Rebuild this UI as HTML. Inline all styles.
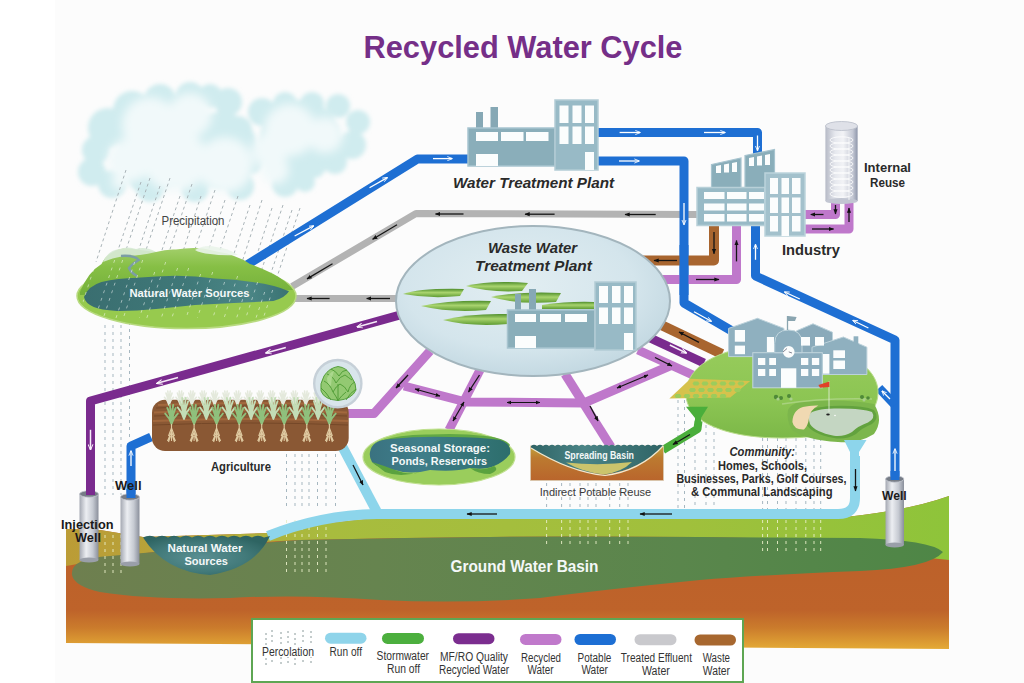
<!DOCTYPE html>
<html><head><meta charset="utf-8">
<style>
html,body{margin:0;padding:0;background:#fff;width:1024px;height:683px;overflow:hidden}
svg{display:block}
text{font-family:"Liberation Sans",sans-serif}
</style></head>
<body>
<svg width="1024" height="683" viewBox="0 0 1024 683">
<defs>
  <linearGradient id="gBrown" gradientUnits="userSpaceOnUse" x1="0" y1="500" x2="0" y2="649">
    <stop offset="0" stop-color="#bb5f2a"/>
    <stop offset="0.74" stop-color="#be632a"/>
    <stop offset="0.86" stop-color="#cb7c2c"/>
    <stop offset="1" stop-color="#e4aa36"/>
  </linearGradient>
  <linearGradient id="gTop" x1="0" y1="0" x2="1" y2="0">
    <stop offset="0" stop-color="#bb9c36"/>
    <stop offset="0.12" stop-color="#b6a43a"/>
    <stop offset="0.3" stop-color="#a8bc3e"/>
    <stop offset="0.7" stop-color="#a0c03c"/>
    <stop offset="1" stop-color="#8ec43a"/>
  </linearGradient>
  <linearGradient id="gAq" x1="0" y1="0" x2="1" y2="0">
    <stop offset="0" stop-color="#6e7f4f"/>
    <stop offset="0.35" stop-color="#66844f"/>
    <stop offset="0.7" stop-color="#5a864c"/>
    <stop offset="1" stop-color="#4e8646"/>
  </linearGradient>
  <linearGradient id="gCyl" x1="0" y1="0" x2="1" y2="0">
    <stop offset="0" stop-color="#a4a8b2"/>
    <stop offset="0.35" stop-color="#eceef2"/>
    <stop offset="0.7" stop-color="#c6cad2"/>
    <stop offset="1" stop-color="#8a8f9b"/>
  </linearGradient>
  <linearGradient id="gSilo" x1="0" y1="0" x2="1" y2="0">
    <stop offset="0" stop-color="#b6bac6"/>
    <stop offset="0.3" stop-color="#e6e8ee"/>
    <stop offset="0.55" stop-color="#f2f3f6"/>
    <stop offset="0.85" stop-color="#c4c8d4"/>
    <stop offset="1" stop-color="#8e96aa"/>
  </linearGradient>
  <filter id="soft" x="-10%" y="-10%" width="120%" height="120%"><feGaussianBlur stdDeviation="1.2"/></filter>
  <filter id="soft2" x="-10%" y="-10%" width="120%" height="120%"><feGaussianBlur stdDeviation="2"/></filter>
  <filter id="soft3" x="-20%" y="-20%" width="140%" height="140%"><feGaussianBlur stdDeviation="5"/></filter>
  <marker id="ah" viewBox="0 0 10 10" refX="9" refY="5" markerWidth="4" markerHeight="4" orient="auto"><path d="M0 1 L10 5 L0 9 Z" fill="#111"/></marker>
  <marker id="ahs" viewBox="0 0 10 10" refX="9" refY="5" markerWidth="4" markerHeight="4" orient="auto-start-reverse"><path d="M0 1 L10 5 L0 9 Z" fill="#111"/></marker>
  <marker id="ahw" viewBox="0 0 10 10" refX="9" refY="5" markerWidth="4" markerHeight="4" orient="auto"><path d="M0 1 L10 5 L0 9" fill="none" stroke="#fff" stroke-width="1.6"/></marker>
  <linearGradient id="gComm" x1="0" y1="0" x2="0" y2="1">
    <stop offset="0" stop-color="#98cc5c"/><stop offset="0.6" stop-color="#8cc553"/><stop offset="1" stop-color="#7cb848"/>
  </linearGradient>
  <radialGradient id="gEll" cx="0.45" cy="0.4" r="0.6">
    <stop offset="0" stop-color="#e2eef2"/><stop offset="0.7" stop-color="#d4e5ec"/><stop offset="1" stop-color="#c4d9e2"/>
  </radialGradient>
  <linearGradient id="gPond" x1="0" y1="0" x2="0" y2="1">
    <stop offset="0" stop-color="#4f8e2c"/><stop offset="0.45" stop-color="#a9d46e"/><stop offset="1" stop-color="#5f9c34"/>
  </linearGradient>
  <linearGradient id="gHill" x1="0" y1="0" x2="0" y2="1">
    <stop offset="0" stop-color="#a2cf6a"/><stop offset="0.4" stop-color="#86bf45"/><stop offset="1" stop-color="#74b03a"/>
  </linearGradient>
  <linearGradient id="gLake" x1="0" y1="0" x2="1" y2="0">
    <stop offset="0" stop-color="#3a6e70"/><stop offset="0.5" stop-color="#3f7878"/><stop offset="0.8" stop-color="#4b8686"/><stop offset="1" stop-color="#3a7272"/>
  </linearGradient>
  <clipPath id="islandClip"><ellipse cx="186.5" cy="290" rx="108" ry="42"/></clipPath>
  <linearGradient id="gSB" x1="0" y1="0" x2="0" y2="1">
    <stop offset="0" stop-color="#c2a43c"/><stop offset="0.35" stop-color="#bc7a30"/><stop offset="1" stop-color="#b9652c"/>
  </linearGradient>
  <linearGradient id="gSBw" x1="0" y1="0" x2="1" y2="0">
    <stop offset="0" stop-color="#2f6466"/><stop offset="0.4" stop-color="#4a8486"/><stop offset="1" stop-color="#2f6466"/>
  </linearGradient>
  <linearGradient id="gSS" x1="0" y1="0" x2="1" y2="0">
    <stop offset="0" stop-color="#3a7280"/><stop offset="0.35" stop-color="#3f7e8a"/><stop offset="1" stop-color="#2d6e6c"/>
  </linearGradient>
  <radialGradient id="gBowl" cx="0.45" cy="0.55" r="0.6">
    <stop offset="0" stop-color="#5a8f92"/><stop offset="0.6" stop-color="#427a7a"/><stop offset="1" stop-color="#2e6462"/>
  </radialGradient>
  <radialGradient id="gCloud" cx="0.5" cy="0.5" r="0.6">
    <stop offset="0" stop-color="#f4fafb"/>
    <stop offset="0.7" stop-color="#e2f2f4"/>
    <stop offset="1" stop-color="#c6e8ec"/>
  </radialGradient>
</defs>

<rect width="1024" height="683" fill="#ffffff"/>
<rect x="55" y="0" width="969" height="683" fill="#fcfcfc"/>

<!-- ===== TITLE ===== -->
<text x="363.5" y="58" font-size="30.5" font-weight="bold" fill="#752f88" textLength="319" lengthAdjust="spacingAndGlyphs">Recycled Water Cycle</text>

<!-- ===== CLOUDS ===== -->
<g id="clouds">
  <g fill="#d0ecef" filter="url(#soft2)">
    <circle cx="132" cy="110" r="19"/><circle cx="160" cy="100" r="16"/><circle cx="190" cy="96" r="14"/><circle cx="210" cy="96" r="12"/>
    <circle cx="228" cy="102" r="14"/><circle cx="108" cy="128" r="20"/><circle cx="96" cy="150" r="14"/><circle cx="92" cy="172" r="14"/>
    <circle cx="112" cy="184" r="14"/><circle cx="150" cy="188" r="14"/><circle cx="195" cy="188" r="14"/><circle cx="240" cy="186" r="14"/>
    <circle cx="285" cy="184" r="13"/><circle cx="305" cy="182" r="10"/><circle cx="238" cy="130" r="14"/><circle cx="250" cy="160" r="14"/>
    <circle cx="262" cy="112" r="14"/><circle cx="285" cy="104" r="12"/><circle cx="312" cy="104" r="12"/><circle cx="338" cy="106" r="12"/>
    <circle cx="358" cy="122" r="12"/><circle cx="352" cy="145" r="14"/><circle cx="335" cy="162" r="12"/><circle cx="315" cy="168" r="10"/>
    <circle cx="165" cy="140" r="45"/><circle cx="220" cy="150" r="38"/><circle cx="300" cy="140" r="40"/><circle cx="150" cy="170" r="25"/>
  </g>
  <g fill="#f1f9fa" filter="url(#soft3)">
    <circle cx="150" cy="125" r="28"/><circle cx="190" cy="115" r="22"/><circle cx="130" cy="160" r="22"/><circle cx="175" cy="160" r="32"/>
    <circle cx="225" cy="165" r="28"/><circle cx="275" cy="170" r="14"/><circle cx="290" cy="130" r="26"/><circle cx="325" cy="135" r="18"/>
    <circle cx="270" cy="150" r="18"/><circle cx="120" cy="182" r="8"/>
  </g>
</g>

<!-- ===== RAIN ===== -->
<g id="rain" stroke="#aab4b8" stroke-width="1" stroke-dasharray="3 3" fill="none">
  <line x1="126" y1="170" x2="96" y2="262"/><line x1="141" y1="182" x2="112" y2="268"/><line x1="150" y1="178" x2="120" y2="268"/>
  <line x1="160" y1="186" x2="132" y2="270"/><line x1="170" y1="178" x2="140" y2="268"/><line x1="180" y1="196" x2="152" y2="280"/>
  <line x1="192" y1="184" x2="163" y2="270"/><line x1="201" y1="196" x2="175" y2="276"/><line x1="215" y1="190" x2="186" y2="276"/>
  <line x1="225" y1="200" x2="198" y2="282"/><line x1="238" y1="196" x2="210" y2="280"/><line x1="250" y1="205" x2="222" y2="290"/>
  <line x1="262" y1="200" x2="235" y2="284"/><line x1="272" y1="208" x2="245" y2="292"/><line x1="283" y1="205" x2="255" y2="290"/>
  <line x1="292" y1="210" x2="262" y2="300"/><line x1="300" y1="208" x2="270" y2="298"/>
</g>
<g id="perc" stroke="#a6b7c0" stroke-width="1" stroke-dasharray="3 4" fill="none"><line x1="105" y1="325" x2="105" y2="495"/><line x1="113" y1="325" x2="113" y2="495"/><line x1="121" y1="325" x2="121" y2="495"/><line x1="129.5" y1="322" x2="129.5" y2="440"/><line x1="286.5" y1="454" x2="286.5" y2="510"/><line x1="295" y1="454" x2="295" y2="510"/><line x1="302" y1="454" x2="302" y2="510"/><line x1="309" y1="454" x2="309" y2="510"/><line x1="317.5" y1="454" x2="317.5" y2="510"/><line x1="326" y1="454" x2="326" y2="510"/><line x1="335.5" y1="454" x2="335.5" y2="510"/><line x1="546.6" y1="483" x2="546.6" y2="508"/><line x1="561.6" y1="483" x2="561.6" y2="508"/><line x1="570" y1="483" x2="570" y2="508"/><line x1="580" y1="483" x2="580" y2="508"/><line x1="588" y1="483" x2="588" y2="508"/><line x1="596" y1="483" x2="596" y2="508"/><line x1="609.7" y1="483" x2="609.7" y2="508"/><line x1="619.7" y1="483" x2="619.7" y2="508"/><line x1="628" y1="483" x2="628" y2="508"/><line x1="678" y1="400" x2="678" y2="509"/><line x1="684.5" y1="400" x2="684.5" y2="509"/><line x1="695" y1="425" x2="695" y2="509"/><line x1="706" y1="425" x2="706" y2="509"/><line x1="714" y1="425" x2="714" y2="509"/><line x1="762.6" y1="438" x2="762.6" y2="509"/><line x1="767.5" y1="438" x2="767.5" y2="509"/><line x1="777.5" y1="438" x2="777.5" y2="509"/><line x1="786" y1="438" x2="786" y2="509"/><line x1="796" y1="438" x2="796" y2="509"/><line x1="805.8" y1="438" x2="805.8" y2="509"/><line x1="814" y1="438" x2="814" y2="509"/><line x1="820.7" y1="438" x2="820.7" y2="509"/></g>

<text x="161.5" y="225.3" font-size="12" fill="#444" textLength="63" lengthAdjust="spacingAndGlyphs">Precipitation</text>

<!-- ===== GROUND ===== -->
<g id="ground">
  <path d="M66 529 L100 530 L143 537 L270 533 Q320 522 380 518 L846 517 Q910 510 949 496 L949 649 L66 643 Z" fill="url(#gBrown)"/>
  <path d="M66 529 L100 530 L143 537 L270 533 Q320 522 380 518 L846 517 Q910 510 949 496 L949 560 Q900 556 860 540 L700 537 Q500 535 300 540 Q150 548 72 565 L66 566 Z" fill="url(#gTop)"/>
  <path d="M72 575 Q70 558 110 556 Q200 548 300 540 Q500 535 700 537 L860 538 Q930 540 943 552 Q930 568 860 571 Q760 575 700 580 Q600 590 540 598 Q460 604 380 600 Q300 594 230 598 Q150 600 100 592 Q74 586 72 575 Z" fill="url(#gAq)"/>
</g>

<g id="perc2" stroke="#e9efc8" stroke-width="1" stroke-dasharray="3 4" fill="none" opacity="0.9"><line x1="105" y1="535" x2="105" y2="575"/><line x1="113" y1="535" x2="113" y2="575"/><line x1="121" y1="535" x2="121" y2="575"/><line x1="286.5" y1="520" x2="286.5" y2="573"/><line x1="295" y1="520" x2="295" y2="573"/><line x1="302" y1="520" x2="302" y2="573"/><line x1="309" y1="520" x2="309" y2="573"/><line x1="317.5" y1="520" x2="317.5" y2="573"/><line x1="326" y1="520" x2="326" y2="573"/><line x1="546.6" y1="520" x2="546.6" y2="545"/><line x1="561.6" y1="520" x2="561.6" y2="545"/><line x1="570" y1="520" x2="570" y2="545"/><line x1="580" y1="520" x2="580" y2="545"/><line x1="588" y1="520" x2="588" y2="545"/><line x1="596" y1="520" x2="596" y2="545"/><line x1="609.7" y1="520" x2="609.7" y2="545"/><line x1="619.7" y1="520" x2="619.7" y2="545"/><line x1="628" y1="520" x2="628" y2="545"/><line x1="762.6" y1="520" x2="762.6" y2="553"/><line x1="767.5" y1="520" x2="767.5" y2="553"/><line x1="777.5" y1="520" x2="777.5" y2="553"/><line x1="786" y1="520" x2="786" y2="553"/><line x1="796" y1="520" x2="796" y2="553"/><line x1="805.8" y1="520" x2="805.8" y2="553"/><line x1="814" y1="520" x2="814" y2="553"/><line x1="820.7" y1="520" x2="820.7" y2="553"/></g>

<!-- ===== PIPES ===== -->
<g id="pipes" fill="none" stroke-linejoin="round" stroke-linecap="butt">
  <!-- gray treated effluent -->
  <g stroke="#b3b3b3" stroke-width="7">
    <polyline points="697,214.5 416,213.5 292,286.5"/>
    <polyline points="398,298.5 295,298.5"/>
  </g>
  <!-- blue potable -->
  <g stroke="#1e6fd3" stroke-width="9">
    <polyline points="246,265.5 417.5,159 470,159"/>
    <polyline points="597,132.5 757.5,132.5 757.5,154"/>
    <polyline points="597,161 684,161 684,303 732,331"/>
    <polyline points="755.5,224 755.5,276 895,340 895,480"/>
    <polyline points="151,437 131,446 131,498"/>
    <polyline points="895,405 879,388"/>
  </g>
  <!-- brown waste -->
  <g stroke="#a8652f" stroke-width="10">
    <polyline points="714,224 714,260.5 640,260.5"/>
    <polyline points="655,322 722,354"/>
  </g>
  <!-- light purple recycled -->
  <g stroke="#bf78cb" stroke-width="9">
    <polyline points="736.5,224 736.5,279.5 652,279.5"/>
    <polyline points="804,214.5 835.5,214.5 835.5,203"/>
    <polyline points="804,229 849,229 849,203"/>
    <polyline points="430,351 374,413.5 346,413.5"/>
    <polyline points="404,386 466,402 584,403 672,365"/>
    <polyline points="480,370 449,430"/>
    <polyline points="565,374 611,447"/>
    <polyline points="638,350 695,376"/>
  </g>
  <line x1="684" y1="245" x2="684" y2="295" stroke="#1e6fd3" stroke-width="9"/>
  <!-- dark purple MF/RO -->
  <g stroke="#7a2b8e" stroke-width="9">
    <polyline points="400,315 90.5,401 90.5,495"/>
    <polyline points="648,337 704,363"/>
  </g>
  <!-- runoff light blue -->
  <g stroke="#8dd5eb" stroke-width="10">
    <path d="M855 456 L855 498 Q855 514 838 514 L377 514 Q320 515 268 536"/>
    <polyline points="342,446 377,512"/>
  </g>
  <!-- stormwater -->
  <g stroke="#4aae3b" stroke-width="8">
    <polyline points="698.5,421 697.5,429 663,450"/>
  </g>
</g>

<!-- ===== ARROWS ===== -->
<g id="arrows-w" stroke="#ffffff" stroke-width="1.3" fill="none" marker-end="url(#ahw)">
  <line x1="294.6" y1="236" x2="313.6" y2="225.9"/><line x1="369.5" y1="187.8" x2="387.3" y2="177.6"/><line x1="433" y1="158.6" x2="452" y2="158.6"/>
  <line x1="619.6" y1="132.5" x2="640" y2="132.5"/><line x1="704" y1="132.5" x2="725" y2="132.5"/><line x1="757.5" y1="135.5" x2="757.5" y2="150.5"/>
  <line x1="619" y1="161" x2="639" y2="161"/><line x1="684" y1="203" x2="684" y2="224.5"/><line x1="694" y1="311.8" x2="711.3" y2="321.3"/>
  <line x1="755.5" y1="259.8" x2="755.5" y2="244.6"/><line x1="799.8" y1="299" x2="784.6" y2="292"/><line x1="868.4" y1="328" x2="853" y2="320.5"/>
  <line x1="895" y1="471" x2="895" y2="449"/><line x1="890" y1="399" x2="882" y2="391"/><line x1="131" y1="466" x2="131" y2="451"/>
</g>
<g id="arrows-p" stroke="#f6ecf8" stroke-width="1.5" fill="none" marker-end="url(#ahw)">
  <line x1="377" y1="321.5" x2="357" y2="327"/><line x1="285.8" y1="347.5" x2="265.9" y2="353"/><line x1="178" y1="377.5" x2="157" y2="383.3"/>
  <line x1="90.5" y1="429.8" x2="90.5" y2="449.7"/><line x1="669.8" y1="345" x2="686.3" y2="353"/>
</g>
<g id="arrows-k" stroke="#151515" stroke-width="1.3" fill="none" marker-end="url(#ah)">
  <line x1="655.7" y1="214.5" x2="625" y2="214.5"/><line x1="554.6" y1="214.2" x2="525" y2="214.2"/><line x1="463.5" y1="214" x2="435.5" y2="214"/>
  <line x1="397" y1="224.8" x2="372.6" y2="239.3"/><line x1="332.5" y1="263.8" x2="307" y2="278.9"/>
  <line x1="390" y1="298.5" x2="366.7" y2="298.5"/><line x1="329.6" y1="298.5" x2="307" y2="298.5"/>
  <line x1="714" y1="232" x2="714" y2="253.8"/><line x1="677" y1="260.5" x2="654" y2="260.5"/><line x1="699" y1="342.3" x2="679" y2="332"/>
  <line x1="736.5" y1="261.4" x2="736.5" y2="240.5"/><line x1="696" y1="279.5" x2="719" y2="279.5"/>
  <line x1="823.5" y1="214.5" x2="810.8" y2="214.5"/><line x1="835.5" y1="205" x2="835.5" y2="214"/><line x1="812" y1="229" x2="833.6" y2="229"/><line x1="849" y1="222" x2="849" y2="208"/>
  <line x1="655" y1="357.5" x2="672" y2="366"/>
  <line x1="408" y1="375" x2="396" y2="388"/><line x1="479.5" y1="375" x2="468.5" y2="392"/><line x1="590" y1="406" x2="598" y2="421"/>
  <line x1="855.5" y1="469" x2="855.5" y2="491"/>
  <line x1="497" y1="514" x2="467" y2="514"/><line x1="672" y1="514" x2="640" y2="514"/><line x1="353" y1="465" x2="363" y2="485"/>
  <line x1="690" y1="434.5" x2="673" y2="444.5"/>
</g>
<g id="arrows-d" stroke="#151515" stroke-width="1.2" fill="none" marker-end="url(#ah)" marker-start="url(#ahs)">
  <line x1="415" y1="389" x2="440" y2="396"/><line x1="464" y1="402" x2="453" y2="421"/><line x1="507" y1="402.5" x2="540" y2="402.5"/><line x1="617" y1="388" x2="648" y2="375"/>
</g>

<!-- ===== WATER TREATMENT PLANT ===== -->
<g id="wtp">
  <rect x="476" y="112" width="7" height="17" fill="#86a8b5"/>
  <rect x="490.5" y="107" width="7.5" height="22" fill="#86a8b5"/>
  <rect x="468" y="128" width="87" height="38" fill="#8aaeba" stroke="#a7c4cf" stroke-width="1.5"/>
  <g fill="#fbfdfd"><rect x="476" y="132" width="22" height="9"/><rect x="501" y="132" width="22.5" height="9"/><rect x="526" y="132" width="22.5" height="9"/><rect x="476" y="154" width="22" height="12"/></g>
  <rect x="555" y="100" width="43" height="70" fill="#98bac6" stroke="#b2ccd5" stroke-width="1.5"/>
  <g fill="#fbfdfd"><rect x="559.5" y="105.5" width="9" height="17.5"/><rect x="572.5" y="105.5" width="9" height="17.5"/><rect x="585" y="105.5" width="9" height="17.5"/>
  <rect x="559.5" y="126.5" width="9" height="17.5"/><rect x="572.5" y="126.5" width="9" height="17.5"/><rect x="585" y="126.5" width="9" height="17.5"/><rect x="585" y="152" width="9" height="18"/></g>
  <text x="453" y="188" font-size="15.5" font-weight="bold" font-style="italic" fill="#2a2a2a" textLength="161" lengthAdjust="spacingAndGlyphs">Water Treatment Plant</text>
</g>

<!-- ===== INDUSTRY ===== -->
<g id="industry">
  <path d="M711.5 164.5 L741 158 L741 188 L711.5 188 Z" fill="#8aaeba" stroke="#a7c4cf" stroke-width="1.2"/>
  <path d="M745 155.5 L774.5 149.5 L774.5 188 L745 188 Z" fill="#8aaeba" stroke="#a7c4cf" stroke-width="1.2"/>
  <g fill="#fbfdfd"><path d="M716 166 l5 -1 v8 h-5z"/><path d="M724 164.5 l5 -1 v9 h-5z"/><path d="M732 163 l5 -1 v10 h-5z"/>
  <path d="M749 158 l5 -1 v9 h-5z"/><path d="M757 156.5 l5 -1 v10 h-5z"/><path d="M765 155 l5 -1 v11 h-5z"/></g>
  <rect x="697" y="187.5" width="68" height="38" fill="#98bac6" stroke="#b8d0d8" stroke-width="1.5"/>
  <g fill="#fbfdfd"><rect x="704" y="192" width="20.5" height="7"/><rect x="727" y="192" width="19.5" height="7"/><rect x="749" y="192" width="15" height="7"/>
  <rect x="704" y="203.5" width="20.5" height="7"/><rect x="727" y="203.5" width="19.5" height="7"/><rect x="749" y="203.5" width="15" height="7"/>
  <rect x="704" y="214" width="20.5" height="7.5"/><rect x="727" y="214" width="19.5" height="7.5"/><rect x="749" y="214" width="15" height="7.5"/></g>
  <rect x="765" y="173" width="40" height="63" fill="#a3c1cc" stroke="#bcd3db" stroke-width="1.5"/>
  <g fill="#fbfdfd"><rect x="770" y="178" width="8" height="16"/><rect x="781.5" y="178" width="7.5" height="16"/><rect x="792" y="178" width="8.5" height="16"/>
  <rect x="770" y="197.5" width="8" height="15.5"/><rect x="781.5" y="197.5" width="7.5" height="15.5"/><rect x="792" y="197.5" width="8.5" height="15.5"/>
  <rect x="770" y="216" width="8" height="15.5"/><rect x="781.5" y="216" width="7.5" height="20"/><rect x="792" y="216" width="8.5" height="15.5"/></g>
  <!-- silo -->
  <rect x="825.4" y="126" width="32.2" height="75" fill="url(#gSilo)"/>
  <ellipse cx="841.5" cy="126" rx="16.1" ry="4.5" fill="#dfe1e8" stroke="#b8bcc8" stroke-width="0.8"/>
  <ellipse cx="841.5" cy="201" rx="16.1" ry="3" fill="#c2c6d2"/>
  <g fill="none" stroke="#ffffff" stroke-width="0.9" opacity="0.85"><ellipse cx="841.5" cy="140" rx="11.5" ry="3.2"/><ellipse cx="841.5" cy="146" rx="11.5" ry="3.2"/><ellipse cx="841.5" cy="152" rx="11.5" ry="3.2"/><ellipse cx="841.5" cy="158" rx="11.5" ry="3.2"/><ellipse cx="841.5" cy="164" rx="11.5" ry="3.2"/><ellipse cx="841.5" cy="170" rx="11.5" ry="3.2"/><ellipse cx="841.5" cy="176" rx="11.5" ry="3.2"/><ellipse cx="841.5" cy="182" rx="11.5" ry="3.2"/><ellipse cx="841.5" cy="188" rx="11.5" ry="3.2"/><ellipse cx="841.5" cy="194" rx="11.5" ry="3.2"/><line x1="849" y1="138" x2="849" y2="200"/></g>
  <text x="864" y="172" font-size="12.8" font-weight="bold" fill="#2a2a2a" textLength="47" lengthAdjust="spacingAndGlyphs">Internal</text>
  <text x="870" y="186.5" font-size="12" font-weight="bold" fill="#2a2a2a" textLength="35" lengthAdjust="spacingAndGlyphs">Reuse</text>
  <text x="782" y="255" font-size="14" font-weight="bold" fill="#2a2a2a" textLength="58" lengthAdjust="spacingAndGlyphs">Industry</text>
</g>

<!-- ===== WASTE WATER TREATMENT PLANT ===== -->
<g id="wwtp">
  <ellipse cx="533" cy="301" rx="137" ry="75" fill="url(#gEll)" stroke="#a3b5bd" stroke-width="2"/>
  <g fill="url(#gPond)">
    <path d="M403 294 Q420 288 464 289 L460 296 Q430 299 403 294 Z"/>
    <path d="M466 286 Q490 280 528 283 L522 291 Q490 293 466 286 Z"/>
    <path d="M421 306 Q450 300 491 301 L486 310 Q450 313 421 306 Z"/>
    <path d="M491 297 Q520 291 561 293 L556 302 Q520 305 491 297 Z"/>
    <path d="M443 320 Q470 313 508 314 L508 324 Q470 327 443 320 Z"/>
    <path d="M542 305 Q570 301 594 302 L594 309 L542 309 Z"/>
  </g>
  <rect x="515" y="294" width="6" height="17" fill="#86a8b5"/>
  <rect x="529" y="289" width="7" height="22" fill="#86a8b5"/>
  <rect x="507.5" y="310" width="87.5" height="38" fill="#8aaeba" stroke="#a7c4cf" stroke-width="1.5"/>
  <g fill="#fbfdfd"><rect x="515" y="314" width="21" height="8"/><rect x="540" y="314" width="21" height="8"/><rect x="565" y="314" width="22" height="8"/><rect x="515" y="336" width="21" height="12"/></g>
  <rect x="595" y="282" width="41" height="68" fill="#98bac6" stroke="#b2ccd5" stroke-width="1.5"/>
  <g fill="#fbfdfd"><rect x="599" y="286" width="9" height="17"/><rect x="612" y="286" width="8.5" height="17"/><rect x="624" y="286" width="9" height="17"/>
  <rect x="599" y="307.5" width="9" height="16.5"/><rect x="612" y="307.5" width="8.5" height="16.5"/><rect x="624" y="307.5" width="9" height="16.5"/><rect x="624" y="333" width="9" height="17"/></g>
  <text x="488" y="253" font-size="15.5" font-weight="bold" font-style="italic" fill="#2a2a2a" textLength="89" lengthAdjust="spacingAndGlyphs">Waste Water</text>
  <text x="475" y="271" font-size="15.5" font-weight="bold" font-style="italic" fill="#2a2a2a" textLength="117" lengthAdjust="spacingAndGlyphs">Treatment Plant</text>
</g>

<!-- ===== NATURAL WATER SOURCES (island) ===== -->
<g id="nws">
  <ellipse cx="186.5" cy="296" rx="109.5" ry="32.5" fill="#97ca4e" stroke="#b8da80" stroke-width="1.5"/>
  <path d="M80 292 Q88 272 101.5 264 Q106 255 113 252 Q120 248 129 248.4 Q142 250 156 252 Q166 249 176 249.5 Q190 247 203 248.4 Q212 250 219 252 Q228 253 234 256 Q243 259 250 264 Q262 268 273 273.8 Q287 281 293 290 L80 295 Z" fill="url(#gHill)"/>
  <path d="M103 262 Q108 250 120 249 Q128 246 136 249 Q146 246 156 252 Q140 256 124 256 Q112 258 103 262 Z" fill="#d8ead6" opacity="0.9"/>
  <path d="M195 250 Q205 244 216 247 Q228 248 238 255 Q222 256 210 254 Q200 253 195 250 Z" fill="#eaf4ea" opacity="0.9"/>
  <path d="M121 256 Q134 255 138.7 260 Q132 264 129 268 Q131 273 137 276" fill="none" stroke="#7c9ea4" stroke-width="2.5"/>
  <path d="M84 297 Q88 286 101.5 282 Q118 278 136.7 277.7 Q156 276 175.8 275.7 Q196 276 214.8 278.4 Q235 279 254 282.3 Q275 285 289 291.3 Q285 298 273.4 301 Q254 302 234 303 Q214 304 195 305 Q176 307 156 309 Q136 311 117 310.9 Q100 310 93.75 307 Q85 303 84 297 Z" fill="url(#gLake)"/>
<g id="rain2" stroke="#ffffff" stroke-width="1" stroke-dasharray="3 5" opacity="0.5" clip-path="url(#islandClip)"><line x1="98.6" y1="254" x2="77.7" y2="318"/><line x1="114.7" y1="260" x2="95.1" y2="318"/><line x1="122.7" y1="260" x2="103.3" y2="318"/><line x1="134.7" y1="262" x2="116.0" y2="318"/><line x1="142.7" y1="260" x2="123.3" y2="318"/><line x1="154.7" y1="272" x2="139.3" y2="318"/><line x1="165.7" y1="262" x2="146.8" y2="318"/><line x1="177.6" y1="268" x2="161.3" y2="318"/><line x1="188.7" y1="268" x2="171.8" y2="318"/><line x1="200.6" y1="274" x2="186.1" y2="318"/><line x1="212.7" y1="272" x2="197.3" y2="318"/><line x1="224.6" y1="282" x2="212.8" y2="318"/><line x1="237.6" y1="276" x2="224.1" y2="318"/><line x1="247.6" y1="284" x2="236.6" y2="318"/><line x1="257.6" y1="282" x2="245.8" y2="318"/><line x1="264.7" y1="292" x2="256.0" y2="318"/><line x1="272.7" y1="290" x2="263.3" y2="318"/></g>
  <text x="129.5" y="296.5" font-size="11.5" font-weight="bold" fill="#f4f8f8" textLength="120" lengthAdjust="spacingAndGlyphs">Natural Water Sources</text>
</g>

<!-- ===== AGRICULTURE ===== -->
<g id="agri">
  <rect x="152" y="399.8" width="196.7" height="51.2" rx="13" fill="#8a5834"/>
  <g fill="none" stroke="#a86c40" stroke-width="2" opacity="0.8">
    <path d="M158 405 Q250 401 343 405"/><path d="M154 412.5 Q250 408 347 412.5"/><path d="M153 421 Q250 417 348 421"/>
  </g>
  <g fill="none" stroke="#6d4224" stroke-width="1" opacity="0.7">
    <path d="M156 408 Q250 404 345 408"/><path d="M154 416 Q250 412 347 416"/><path d="M153 425 Q250 421 348 425"/>
  </g>
  <g stroke="#e4e9dc" stroke-width="1.6" fill="none" stroke-linecap="round"><path d="M169.0 405 Q167.7 400.4 164.5 397.3 M169.0 405 Q168.1 397.9 166.0 393.1 M169.0 405 Q168.6 396.6 167.8 391.0 M169.0 405 Q169.4 396.6 170.2 391.0 M169.0 405 Q169.9 397.9 172.0 393.1 M169.0 405 Q170.3 400.4 173.5 397.3"/><path d="M180.4 405 Q179.1 400.4 175.9 397.3 M180.4 405 Q179.5 397.9 177.4 393.1 M180.4 405 Q180.0 396.6 179.2 391.0 M180.4 405 Q180.8 396.6 181.7 391.0 M180.4 405 Q181.3 397.9 183.4 393.1 M180.4 405 Q181.8 400.4 184.9 397.3"/><path d="M191.8 405 Q190.5 400.4 187.3 397.3 M191.8 405 Q190.9 397.9 188.8 393.1 M191.8 405 Q191.4 396.6 190.6 391.0 M191.8 405 Q192.2 396.6 193.1 391.0 M191.8 405 Q192.7 397.9 194.8 393.1 M191.8 405 Q193.2 400.4 196.3 397.3"/><path d="M203.2 405 Q201.8 400.4 198.7 397.3 M203.2 405 Q202.3 397.9 200.2 393.1 M203.2 405 Q202.8 396.6 201.9 391.0 M203.2 405 Q203.6 396.6 204.4 391.0 M203.2 405 Q204.1 397.9 206.2 393.1 M203.2 405 Q204.5 400.4 207.7 397.3"/><path d="M214.6 405 Q213.2 400.4 210.1 397.3 M214.6 405 Q213.7 397.9 211.6 393.1 M214.6 405 Q214.2 396.6 213.3 391.0 M214.6 405 Q215.0 396.6 215.8 391.0 M214.6 405 Q215.5 397.9 217.6 393.1 M214.6 405 Q215.9 400.4 219.1 397.3"/><path d="M226.0 405 Q224.7 400.4 221.5 397.3 M226.0 405 Q225.1 397.9 223.0 393.1 M226.0 405 Q225.6 396.6 224.8 391.0 M226.0 405 Q226.4 396.6 227.2 391.0 M226.0 405 Q226.9 397.9 229.0 393.1 M226.0 405 Q227.3 400.4 230.5 397.3"/><path d="M237.4 405 Q236.1 400.4 232.9 397.3 M237.4 405 Q236.5 397.9 234.4 393.1 M237.4 405 Q237.0 396.6 236.2 391.0 M237.4 405 Q237.8 396.6 238.7 391.0 M237.4 405 Q238.3 397.9 240.4 393.1 M237.4 405 Q238.8 400.4 241.9 397.3"/><path d="M248.8 405 Q247.5 400.4 244.3 397.3 M248.8 405 Q247.9 397.9 245.8 393.1 M248.8 405 Q248.4 396.6 247.6 391.0 M248.8 405 Q249.2 396.6 250.1 391.0 M248.8 405 Q249.7 397.9 251.8 393.1 M248.8 405 Q250.2 400.4 253.3 397.3"/><path d="M260.2 405 Q258.8 400.4 255.7 397.3 M260.2 405 Q259.3 397.9 257.2 393.1 M260.2 405 Q259.8 396.6 258.9 391.0 M260.2 405 Q260.6 396.6 261.4 391.0 M260.2 405 Q261.1 397.9 263.2 393.1 M260.2 405 Q261.6 400.4 264.7 397.3"/><path d="M271.6 405 Q270.2 400.4 267.1 397.3 M271.6 405 Q270.7 397.9 268.6 393.1 M271.6 405 Q271.2 396.6 270.4 391.0 M271.6 405 Q272.0 396.6 272.9 391.0 M271.6 405 Q272.5 397.9 274.6 393.1 M271.6 405 Q273.0 400.4 276.1 397.3"/><path d="M283.0 405 Q281.6 400.4 278.5 397.3 M283.0 405 Q282.1 397.9 280.0 393.1 M283.0 405 Q282.6 396.6 281.8 391.0 M283.0 405 Q283.4 396.6 284.2 391.0 M283.0 405 Q283.9 397.9 286.0 393.1 M283.0 405 Q284.4 400.4 287.5 397.3"/><path d="M294.4 405 Q293.0 400.4 289.9 397.3 M294.4 405 Q293.5 397.9 291.4 393.1 M294.4 405 Q294.0 396.6 293.1 391.0 M294.4 405 Q294.8 396.6 295.6 391.0 M294.4 405 Q295.3 397.9 297.4 393.1 M294.4 405 Q295.8 400.4 298.9 397.3"/><path d="M305.8 405 Q304.4 400.4 301.3 397.3 M305.8 405 Q304.9 397.9 302.8 393.1 M305.8 405 Q305.4 396.6 304.6 391.0 M305.8 405 Q306.2 396.6 307.1 391.0 M305.8 405 Q306.7 397.9 308.8 393.1 M305.8 405 Q307.2 400.4 310.3 397.3"/><path d="M317.2 405 Q315.8 400.4 312.7 397.3 M317.2 405 Q316.3 397.9 314.2 393.1 M317.2 405 Q316.8 396.6 315.9 391.0 M317.2 405 Q317.6 396.6 318.4 391.0 M317.2 405 Q318.1 397.9 320.2 393.1 M317.2 405 Q318.6 400.4 321.7 397.3"/><path d="M328.6 405 Q327.2 400.4 324.1 397.3 M328.6 405 Q327.7 397.9 325.6 393.1 M328.6 405 Q328.2 396.6 327.4 391.0 M328.6 405 Q329.0 396.6 329.9 391.0 M328.6 405 Q329.5 397.9 331.6 393.1 M328.6 405 Q330.0 400.4 333.1 397.3"/></g>
  <g stroke="#c3ddb6" stroke-width="1.8" fill="none" stroke-linecap="round"><path d="M184.0 419 Q182.1 412.1 177.7 407.4 M184.0 419 Q182.7 408.3 179.8 401.1 M184.0 419 Q183.5 406.4 182.2 398.0 M184.0 419 Q184.5 406.4 185.8 398.0 M184.0 419 Q185.3 408.3 188.2 401.1 M184.0 419 Q185.9 412.1 190.3 407.4"/><path d="M206.3 419 Q204.4 412.1 200.0 407.4 M206.3 419 Q205.0 408.3 202.1 401.1 M206.3 419 Q205.8 406.4 204.6 398.0 M206.3 419 Q206.8 406.4 208.1 398.0 M206.3 419 Q207.6 408.3 210.5 401.1 M206.3 419 Q208.2 412.1 212.6 407.4"/><path d="M228.7 419 Q226.8 412.1 222.4 407.4 M228.7 419 Q227.4 408.3 224.5 401.1 M228.7 419 Q228.2 406.4 226.9 398.0 M228.7 419 Q229.2 406.4 230.4 398.0 M228.7 419 Q230.0 408.3 232.9 401.1 M228.7 419 Q230.6 412.1 235.0 407.4"/><path d="M251.1 419 Q249.2 412.1 244.8 407.4 M251.1 419 Q249.8 408.3 246.9 401.1 M251.1 419 Q250.6 406.4 249.3 398.0 M251.1 419 Q251.6 406.4 252.8 398.0 M251.1 419 Q252.4 408.3 255.3 401.1 M251.1 419 Q253.0 412.1 257.4 407.4"/><path d="M273.4 419 Q271.5 412.1 267.1 407.4 M273.4 419 Q272.1 408.3 269.2 401.1 M273.4 419 Q272.9 406.4 271.6 398.0 M273.4 419 Q273.9 406.4 275.1 398.0 M273.4 419 Q274.7 408.3 277.6 401.1 M273.4 419 Q275.3 412.1 279.7 407.4"/><path d="M295.8 419 Q293.9 412.1 289.5 407.4 M295.8 419 Q294.5 408.3 291.6 401.1 M295.8 419 Q295.3 406.4 294.1 398.0 M295.8 419 Q296.3 406.4 297.6 398.0 M295.8 419 Q297.1 408.3 300.0 401.1 M295.8 419 Q297.7 412.1 302.1 407.4"/><path d="M318.1 419 Q316.2 412.1 311.8 407.4 M318.1 419 Q316.8 408.3 313.9 401.1 M318.1 419 Q317.6 406.4 316.4 398.0 M318.1 419 Q318.6 406.4 319.9 398.0 M318.1 419 Q319.4 408.3 322.3 401.1 M318.1 419 Q320.0 412.1 324.4 407.4"/></g>
  <g stroke="#8fc07c" stroke-width="1.9" fill="none" stroke-linecap="round"><path d="M171.5 424 Q169.6 417.7 165.2 413.6 M171.5 424 Q170.2 414.3 167.3 407.9 M171.5 424 Q171.0 412.6 169.8 405.0 M171.5 424 Q172.0 412.6 173.2 405.0 M171.5 424 Q172.8 414.3 175.7 407.9 M171.5 424 Q173.4 417.7 177.8 413.6"/><path d="M194.1 424 Q192.2 417.7 187.8 413.6 M194.1 424 Q192.8 414.3 189.9 407.9 M194.1 424 Q193.6 412.6 192.3 405.0 M194.1 424 Q194.6 412.6 195.8 405.0 M194.1 424 Q195.4 414.3 198.3 407.9 M194.1 424 Q196.0 417.7 200.4 413.6"/><path d="M216.6 424 Q214.7 417.7 210.3 413.6 M216.6 424 Q215.3 414.3 212.4 407.9 M216.6 424 Q216.1 412.6 214.8 405.0 M216.6 424 Q217.1 412.6 218.3 405.0 M216.6 424 Q217.9 414.3 220.8 407.9 M216.6 424 Q218.5 417.7 222.9 413.6"/><path d="M239.2 424 Q237.3 417.7 232.9 413.6 M239.2 424 Q237.9 414.3 235.0 407.9 M239.2 424 Q238.7 412.6 237.4 405.0 M239.2 424 Q239.7 412.6 240.9 405.0 M239.2 424 Q240.5 414.3 243.4 407.9 M239.2 424 Q241.1 417.7 245.5 413.6"/><path d="M261.7 424 Q259.8 417.7 255.4 413.6 M261.7 424 Q260.4 414.3 257.5 407.9 M261.7 424 Q261.2 412.6 259.9 405.0 M261.7 424 Q262.2 412.6 263.4 405.0 M261.7 424 Q263.0 414.3 265.9 407.9 M261.7 424 Q263.6 417.7 268.0 413.6"/><path d="M284.2 424 Q282.3 417.7 277.9 413.6 M284.2 424 Q282.9 414.3 280.0 407.9 M284.2 424 Q283.7 412.6 282.4 405.0 M284.2 424 Q284.7 412.6 285.9 405.0 M284.2 424 Q285.5 414.3 288.4 407.9 M284.2 424 Q286.1 417.7 290.5 413.6"/><path d="M306.8 424 Q304.9 417.7 300.5 413.6 M306.8 424 Q305.5 414.3 302.6 407.9 M306.8 424 Q306.3 412.6 305.1 405.0 M306.8 424 Q307.3 412.6 308.6 405.0 M306.8 424 Q308.1 414.3 311.0 407.9 M306.8 424 Q308.7 417.7 313.1 413.6"/><path d="M329.4 424 Q327.5 417.7 323.1 413.6 M329.4 424 Q328.1 414.3 325.2 407.9 M329.4 424 Q328.9 412.6 327.6 405.0 M329.4 424 Q329.9 412.6 331.1 405.0 M329.4 424 Q330.7 414.3 333.6 407.9 M329.4 424 Q331.3 417.7 335.7 413.6"/></g>
  <g stroke="#e0cba2" stroke-width="1.1" fill="none"><path d="M171.5 424 V441 M171.5 428 l-3 8 M171.5 428 l3 8 M171.5 432 l-4 9 M171.5 432 l4 9 M170.5 436 l-2 6 M172.5 436 l2 6"/><path d="M194.1 424 V441 M194.1 428 l-3 8 M194.1 428 l3 8 M194.1 432 l-4 9 M194.1 432 l4 9 M193.1 436 l-2 6 M195.1 436 l2 6"/><path d="M216.6 424 V441 M216.6 428 l-3 8 M216.6 428 l3 8 M216.6 432 l-4 9 M216.6 432 l4 9 M215.6 436 l-2 6 M217.6 436 l2 6"/><path d="M239.2 424 V441 M239.2 428 l-3 8 M239.2 428 l3 8 M239.2 432 l-4 9 M239.2 432 l4 9 M238.2 436 l-2 6 M240.2 436 l2 6"/><path d="M261.7 424 V441 M261.7 428 l-3 8 M261.7 428 l3 8 M261.7 432 l-4 9 M261.7 432 l4 9 M260.7 436 l-2 6 M262.7 436 l2 6"/><path d="M284.2 424 V441 M284.2 428 l-3 8 M284.2 428 l3 8 M284.2 432 l-4 9 M284.2 432 l4 9 M283.2 436 l-2 6 M285.2 436 l2 6"/><path d="M306.8 424 V441 M306.8 428 l-3 8 M306.8 428 l3 8 M306.8 432 l-4 9 M306.8 432 l4 9 M305.8 436 l-2 6 M307.8 436 l2 6"/><path d="M329.4 424 V441 M329.4 428 l-3 8 M329.4 428 l3 8 M329.4 432 l-4 9 M329.4 432 l4 9 M328.4 436 l-2 6 M330.4 436 l2 6"/></g>
  <text x="211" y="471" font-size="12" font-weight="bold" fill="#2a2a2a" textLength="60" lengthAdjust="spacingAndGlyphs">Agriculture</text>
  <!-- artichoke -->
  <circle cx="337.8" cy="383.6" r="23.6" fill="#d9e5eb" stroke="#c6d0d8" stroke-width="2.4"/>
  <g stroke="#4c9a32" stroke-width="0.9" fill="#93c972" stroke-linejoin="round">
    <path d="M338 366.5 Q347 367.5 351 376 Q356.5 384 356 390 Q352 399 338 400.5 Q324 399.5 321 391 Q319.5 384 324 376 Q329 368 338 366.5 Z"/>
    <path d="M321 388 Q326 392 331 400 M356 389 Q350 393 346 400" fill="none"/>
    <path d="M324 381 Q330 384 333 392 Q336 386 340 384 Q345 386 348 392 Q350 384 355 382" fill="none"/>
    <path d="M327 374 Q333 376 336 383 Q340 376 345 375 Q349 378 352 380" fill="none"/>
    <path d="M331 369 Q336 371 339 376 Q342 370 347 370" fill="none"/>
    <path d="M333 392 Q336 396 338 400.5 Q341 396 346 392" fill="none"/>
    <path d="M338 384 L338 400" fill="none"/>
  </g>
  <path d="M327 378 Q330 372 334 371 Q331 378 331 386 Q327 384 327 378 Z" fill="#b2dc94" opacity="0.8"/>
</g>
</g>

<!-- ===== SEASONAL STORAGE ===== -->
<g id="seasonal">
  <ellipse cx="439" cy="457" rx="76" ry="28" fill="#9acd5c" stroke="#c0e090" stroke-width="1.2"/>
  <path d="M380 441 Q400 434 430 434.5 Q460 433 485 436 Q505 438 510 445 L505 452 Q490 442 460 440 Q420 439 380 445 Z" fill="#62a844"/>
  <path d="M370 452 Q372 440 390 439 Q420 436 450 437 Q480 437 500 440 Q512 444 510 454 Q504 462 494 466 Q485 470 470 468 Q455 472 430 470 Q410 475 395 470 Q378 469 372 462 Q369 457 370 452 Z" fill="url(#gSS)"/>
  <path d="M372 462 Q385 466 395 470 Q410 476 420 472 Q400 478 385 472 Z M470 468 Q485 471 494 466 Q500 470 490 474 Q478 474 470 468 Z" fill="#5aa23f"/>
  <text x="390" y="452" font-size="11.8" font-weight="bold" fill="#f4f8f8" textLength="100" lengthAdjust="spacingAndGlyphs">Seasonal Storage:</text>
  <text x="391.5" y="465" font-size="11.8" font-weight="bold" fill="#f4f8f8" textLength="95.5" lengthAdjust="spacingAndGlyphs">Ponds, Reservoirs</text>
</g>

<!-- ===== SPREADING BASIN ===== -->
<g id="spreading">
  <rect x="530.5" y="446" width="133" height="34.5" fill="url(#gSB)" stroke="#d9c9b0" stroke-width="0.8"/>
  <path d="M531 446 Q534.0 443.5 537.0 446 Q540.0 443.5 543.0 446 Q546.0 443.5 549.0 446 Q552.0 443.5 555.0 446 Q558.0 443.5 561.0 446 Q564.0 443.5 567.0 446 Q570.0 443.5 573.0 446 Q576.0 443.5 579.0 446 Q582.0 443.5 585.0 446 Q588.0 443.5 591.0 446 Q594.0 443.5 597.0 446 Q600.0 443.5 603.0 446 Q606.0 443.5 609.0 446 Q612.0 443.5 615.0 446 Q618.0 443.5 621.0 446 Q624.0 443.5 627.0 446 Q630.0 443.5 633.0 446 Q636.0 443.5 639.0 446 Q642.0 443.5 645.0 446 Q648.0 443.5 651.0 446 Q654.0 443.5 657.0 446 Q660.0 443.5 663.0 446 L663 446 Q640 470 605 474.5 Q570 472 531 448 Z" fill="url(#gSBw)"/>
  <path d="M566 462.5 Q600 466 632 462 Q622 472 604 474.5 Q582 472 566 462.5 Z" fill="#cbc46c"/>
  <path d="M531 448 Q570 472 605 475.5 Q640 471 663 446" fill="none" stroke="#f0e8d0" stroke-width="1.2"/>
  <text x="564.5" y="459.2" font-size="10.5" font-weight="bold" fill="#f4f8f8" textLength="69.5" lengthAdjust="spacingAndGlyphs">Spreading Basin</text>
  <text x="539.7" y="496" font-size="11.5" fill="#3a3a3a" textLength="111.5" lengthAdjust="spacingAndGlyphs">Indirect Potable Reuse</text>
</g>

<!-- ===== COMMUNITY ===== -->
<g id="community">
  <path d="M686 394 C686 362 728 345 782 344 C842 343 878 366 878 392 C878 422 842 438 782 438 C726 438 686 422 686 394 Z" fill="url(#gComm)" stroke="#b9dc8a" stroke-width="1"/>
  <!-- houses -->
  <g stroke="#bcd2db" stroke-width="1">
  <path d="M728.6 328.4 L757.5 318.3 L784 328.4 L784 356.6 L728.6 356.6 Z" fill="#8fb0bf"/>
  <path d="M796.6 330.8 L813 323.8 L832.5 332.3 L832.5 356 L796.6 356 Z" fill="#8aaaba"/>
  <path d="M812 347.2 L843.4 337 L866.9 347.2 L866.9 374.5 L812 374.5 Z" fill="#8fb0bf"/>
  </g>
  <rect x="853.6" y="336.3" width="4.7" height="8" fill="#8fb0bf"/>
  <rect x="752.8" y="352.7" width="69.5" height="35.1" fill="#8daebe" stroke="#c2d6de" stroke-width="1"/>
  <path d="M774.7 352.7 L774.7 343.3 Q775 330 788.4 330 Q802 330 802 343.3 L802 352.7 Z" fill="#8daebe" stroke="#c2d6de" stroke-width="1"/>
  <line x1="787.5" y1="316" x2="787.5" y2="330" stroke="#8aa5b0" stroke-width="1.3"/>
  <path d="M788 316 L796.6 317 L795 321 L788 321 Z" fill="#8aa5b0"/>
  <g fill="#fbfdfd"><circle cx="788.75" cy="351.9" r="5.8"/><rect x="781" y="368.3" width="15.3" height="19.5"/>
  <rect x="758" y="358" width="7.3" height="7"/><rect x="769.2" y="358" width="6.8" height="7"/><rect x="758" y="369" width="7.3" height="7"/><rect x="769.2" y="369" width="6.8" height="7"/>
  <rect x="801" y="358" width="7.3" height="7"/><rect x="811.9" y="358" width="7.3" height="7"/><rect x="801" y="369" width="7.3" height="7"/><rect x="811.9" y="369" width="7.3" height="7"/>
  <rect x="734.8" y="330" width="10.2" height="11.7"/><rect x="734.8" y="345.6" width="10.2" height="8.6"/><rect x="766.9" y="337" width="7.1" height="15"/>
  <rect x="801" y="337" width="9" height="8.6"/><rect x="815" y="337" width="9" height="8.6"/>
  <rect x="833.3" y="350.3" width="11.7" height="7.7"/><rect x="833.3" y="360.5" width="11.7" height="8.5"/><rect x="823" y="354" width="6.4" height="19.7"/></g>
  <path d="M783 352 L787 348.5 M788.75 351.9 L792 353" stroke="#667" stroke-width="0.8"/>
  <!-- paving -->
  <path d="M690.5 378.7 L750.2 381 L730.3 397.4 L669.4 398.5 Z" fill="#d6c24c"/>
  <g fill="#9ccc5c"><path d="M694.0 381.5 h4 l1.5 2 l-1.5 2 h-4 l-1.5 -2 z"/><path d="M703.0 381.5 h4 l1.5 2 l-1.5 2 h-4 l-1.5 -2 z"/><path d="M712.0 381.5 h4 l1.5 2 l-1.5 2 h-4 l-1.5 -2 z"/><path d="M721.0 381.5 h4 l1.5 2 l-1.5 2 h-4 l-1.5 -2 z"/><path d="M730.0 381.5 h4 l1.5 2 l-1.5 2 h-4 l-1.5 -2 z"/><path d="M739.0 381.5 h4 l1.5 2 l-1.5 2 h-4 l-1.5 -2 z"/><path d="M690.5 388.0 h4 l1.5 2 l-1.5 2 h-4 l-1.5 -2 z"/><path d="M699.5 388.0 h4 l1.5 2 l-1.5 2 h-4 l-1.5 -2 z"/><path d="M708.5 388.0 h4 l1.5 2 l-1.5 2 h-4 l-1.5 -2 z"/><path d="M717.5 388.0 h4 l1.5 2 l-1.5 2 h-4 l-1.5 -2 z"/><path d="M726.5 388.0 h4 l1.5 2 l-1.5 2 h-4 l-1.5 -2 z"/><path d="M735.5 388.0 h4 l1.5 2 l-1.5 2 h-4 l-1.5 -2 z"/><path d="M676.0 394.0 h4 l1.5 2 l-1.5 2 h-4 l-1.5 -2 z"/><path d="M685.0 394.0 h4 l1.5 2 l-1.5 2 h-4 l-1.5 -2 z"/><path d="M694.0 394.0 h4 l1.5 2 l-1.5 2 h-4 l-1.5 -2 z"/><path d="M703.0 394.0 h4 l1.5 2 l-1.5 2 h-4 l-1.5 -2 z"/><path d="M712.0 394.0 h4 l1.5 2 l-1.5 2 h-4 l-1.5 -2 z"/><path d="M721.0 394.0 h4 l1.5 2 l-1.5 2 h-4 l-1.5 -2 z"/></g>
  <!-- golf -->
  <path d="M788 410 Q792 401 812 401 Q850 399 874 404 Q884 420 874 434 Q858 444 838 442 Q806 440 792 430 Q786 420 788 410 Z" fill="#7cb64c"/>
  <path d="M806 414 Q810 407 832 406 Q862 405 874 410 Q880 418 872 424 Q862 428 856 434 Q846 440 834 438 Q812 434 806 424 Q804 418 806 414 Z" fill="#62a23e"/>
  <path d="M809.5 414 Q814 409 834 408.5 Q862 408 872 412 Q876 418 868 422.5 Q858 426 852 432 Q844 437 834 435.8 Q815 432 810 424 Q808 418 809.5 414 Z" fill="#c4d6c2"/>
  <path d="M792.4 422 Q793 408 806 406.5 Q815 405.2 818.4 405.6 Q810 410 809 418 Q808 426 804 429.5 Q794 430 792.4 422 Z" fill="#f0d9b2"/>
  <path d="M782 404 Q820 398 872 399" stroke="#a8d27e" stroke-width="1.5" fill="none"/>
  <g fill="#4f8a38"><circle cx="776" cy="397" r="2.2"/><circle cx="781" cy="398" r="2"/><circle cx="789" cy="396" r="2"/><circle cx="862" cy="397" r="2"/><circle cx="868" cy="398" r="1.8"/></g>
  <g fill="#a9cf8e"><circle cx="778" cy="399" r="1.6"/><circle cx="791" cy="399" r="1.6"/><circle cx="864" cy="400" r="1.5"/></g>
  <ellipse cx="828" cy="414.5" rx="1.8" ry="1" fill="#222"/><circle cx="835" cy="415.5" r="0.8" fill="#fff"/>
  <path d="M829 381 V412" stroke="#e8f0e0" stroke-width="0.8"/>
  <path d="M829.4 381.6 L818.4 385 L820 387.8 L829.4 387 Z" fill="#e0402a"/>
  <!-- funnels -->
  <path d="M686 406.8 L708 406.8 L701 418 L701 424 L695 424 L695 418 Z" fill="#4aae3b"/>
  <path d="M844 440 L866.5 440 L859 452 L859 458 L850 458 L850 452 Z" fill="#8dd5eb"/>
  <text x="729.5" y="456" font-size="12" font-weight="bold" font-style="italic" fill="#2a2a2a" textLength="65.5" lengthAdjust="spacingAndGlyphs">Community:</text>
  <text x="718" y="469.5" font-size="12" font-weight="bold" fill="#2a2a2a" textLength="89" lengthAdjust="spacingAndGlyphs">Homes, Schools,</text>
  <text x="676.5" y="483" font-size="12" font-weight="bold" fill="#2a2a2a" textLength="170" lengthAdjust="spacingAndGlyphs">Businesses, Parks, Golf Courses,</text>
  <text x="691" y="495.5" font-size="12" font-weight="bold" fill="#2a2a2a" textLength="141.5" lengthAdjust="spacingAndGlyphs">&amp; Communal Landscaping</text>
</g>

<!-- ===== WELLS ===== -->
<g id="wells">
  <rect x="79.5" y="494" width="19" height="66" fill="url(#gCyl)"/>
  <ellipse cx="89" cy="560" rx="9.5" ry="2.5" fill="#9a9fa9"/>
  <ellipse cx="89" cy="494" rx="9.5" ry="3.2" fill="#767c86" stroke="#c4c8d0" stroke-width="0.8"/>
  <rect x="86" y="486" width="9" height="9" fill="#7a2b8e"/>
  <rect x="120.5" y="497" width="19" height="67" fill="url(#gCyl)"/>
  <ellipse cx="130" cy="564" rx="9.5" ry="2.5" fill="#9a9fa9"/>
  <ellipse cx="130" cy="497" rx="9.5" ry="3.2" fill="#767c86" stroke="#c4c8d0" stroke-width="0.8"/>
  <rect x="126.5" y="489" width="9" height="9" fill="#1e6fd3"/>
  <rect x="885.5" y="479" width="18.5" height="66" fill="url(#gCyl)"/>
  <ellipse cx="894.7" cy="545" rx="9.2" ry="2.5" fill="#9a9fa9"/>
  <ellipse cx="894.7" cy="479" rx="9.2" ry="3.2" fill="#767c86" stroke="#c4c8d0" stroke-width="0.8"/>
  <rect x="890.5" y="471" width="9" height="9" fill="#1e6fd3"/>
  <text x="115" y="489.5" font-size="12" font-weight="bold" fill="#1a1a1a" textLength="26.5" lengthAdjust="spacingAndGlyphs">Well</text>
  <text x="61" y="528.5" font-size="13.5" font-weight="bold" fill="#1a1a1a" textLength="52.5" lengthAdjust="spacingAndGlyphs">Injection</text>
  <text x="75" y="541.5" font-size="13" font-weight="bold" fill="#1a1a1a" textLength="26" lengthAdjust="spacingAndGlyphs">Well</text>
  <text x="882" y="499.7" font-size="13.2" font-weight="bold" fill="#1a1a1a" textLength="24.7" lengthAdjust="spacingAndGlyphs">Well</text>
</g>

<!-- ===== BASIN LABELS ===== -->
<g id="basin">
  <path d="M143 537.5 Q150 534 156 537.5 Q162 534 168 537.5 Q174 534 180 537.5 Q186 534 192 537.5 Q198 534 204 537.5 Q210 534 216 537.5 Q222 534 228 537.5 Q234 534 240 537.5 Q246 534 252 537.5 Q258 534 264 537.5 L270 536 Q255 568 210 575 Q165 572 143 537.5 Z" fill="url(#gBowl)"/>
  <text x="167.5" y="552" font-size="11.5" font-weight="bold" fill="#f4f8f8" textLength="75" lengthAdjust="spacingAndGlyphs">Natural Water</text>
  <text x="184.5" y="564.5" font-size="11.5" font-weight="bold" fill="#f4f8f8" textLength="43.5" lengthAdjust="spacingAndGlyphs">Sources</text>
  <text x="450.5" y="572" font-size="16.3" font-weight="bold" fill="#f4f8f8" textLength="148" lengthAdjust="spacingAndGlyphs">Ground Water Basin</text>
</g>

<!-- ===== LEGEND ===== -->
<g id="legend">
  <rect x="252" y="619" width="491" height="63" fill="#ffffff" stroke="#5ea653" stroke-width="2"/>
  <g stroke-linecap="round" stroke-width="11">
    <line x1="330.5" y1="638.2" x2="361" y2="638.2" stroke="#8fd4ea"/>
    <line x1="387.5" y1="638.4" x2="418.5" y2="638.4" stroke="#4caf3e"/>
    <line x1="458.5" y1="638.7" x2="489" y2="638.7" stroke="#7b2d8f"/>
    <line x1="525.5" y1="639.4" x2="556" y2="639.4" stroke="#c079cb"/>
    <line x1="580" y1="639.5" x2="610.5" y2="639.5" stroke="#1d6fd4"/>
    <line x1="640" y1="639.7" x2="671" y2="639.7" stroke="#c9c9cd"/>
    <line x1="700" y1="640" x2="730.5" y2="640" stroke="#a7672f"/>
  </g>
  <g stroke="#8a9a9a" stroke-width="1" stroke-dasharray="2 3">
    <line x1="266" y1="633" x2="266" y2="667"/><line x1="272" y1="630" x2="272" y2="664"/><line x1="281" y1="632" x2="281" y2="667"/>
    <line x1="288" y1="631" x2="288" y2="665"/><line x1="295" y1="633" x2="295" y2="666"/><line x1="303" y1="630" x2="303" y2="664"/><line x1="311" y1="631" x2="311" y2="666"/>
  </g>
  <rect x="262" y="645" width="52" height="12" fill="#fff"/>
  <g font-size="12.5" fill="#333" lengthAdjust="spacingAndGlyphs">
    <text x="262" y="656" textLength="52" lengthAdjust="spacingAndGlyphs">Percolation</text>
    <text x="329.5" y="656" textLength="32.5" lengthAdjust="spacingAndGlyphs">Run off</text>
    <text x="376.6" y="660" textLength="52.4" lengthAdjust="spacingAndGlyphs">Stormwater</text>
    <text x="387" y="672.5" textLength="33" lengthAdjust="spacingAndGlyphs">Run off</text>
    <text x="440" y="661" textLength="68" lengthAdjust="spacingAndGlyphs">MF/RO Quality</text>
    <text x="439" y="673.5" textLength="70" lengthAdjust="spacingAndGlyphs">Recycled Water</text>
    <text x="521" y="662" textLength="40" lengthAdjust="spacingAndGlyphs">Recycled</text>
    <text x="527.6" y="674" textLength="26" lengthAdjust="spacingAndGlyphs">Water</text>
    <text x="577.6" y="662" textLength="33.8" lengthAdjust="spacingAndGlyphs">Potable</text>
    <text x="581.4" y="674" textLength="26.6" lengthAdjust="spacingAndGlyphs">Water</text>
    <text x="620.8" y="662" textLength="71.2" lengthAdjust="spacingAndGlyphs">Treated Effluent</text>
    <text x="642" y="674.5" textLength="27.8" lengthAdjust="spacingAndGlyphs">Water</text>
    <text x="702.8" y="662.3" textLength="27.2" lengthAdjust="spacingAndGlyphs">Waste</text>
    <text x="702.8" y="674.5" textLength="27.2" lengthAdjust="spacingAndGlyphs">Water</text>
  </g>
</g>

</svg>
</body></html>
